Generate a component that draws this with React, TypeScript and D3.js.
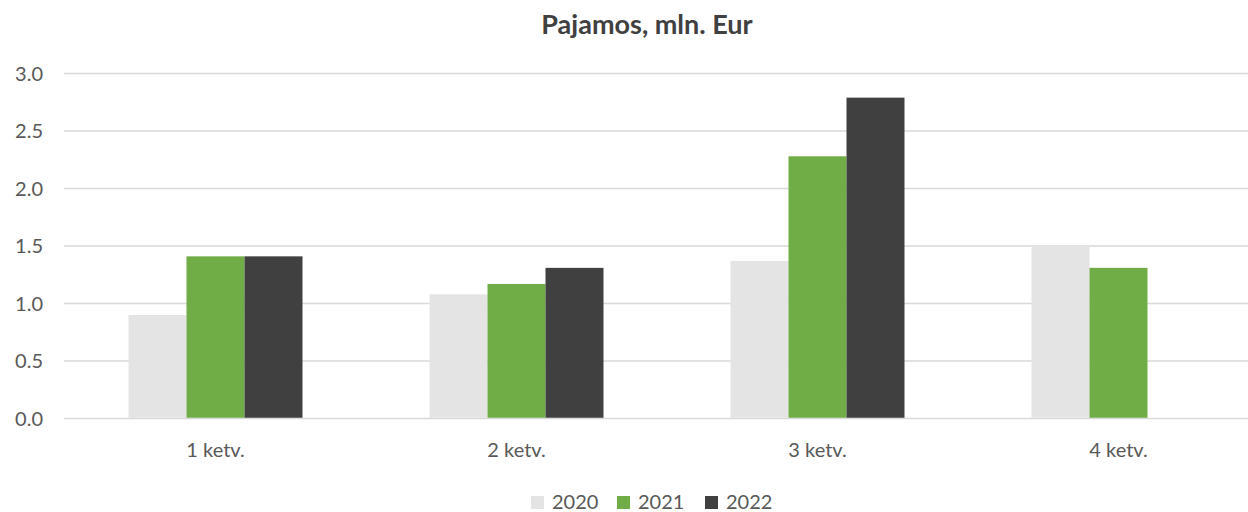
import React, { useEffect, useRef } from "react";
import * as d3 from "d3";

const categories = ["1 ketv.", "2 ketv.", "3 ketv.", "4 ketv."];
const seriesNames = ["2020", "2021", "2022"];
const values2020 = [0.9, 1.08, 1.37, 1.5];
const values2021 = [1.41, 1.17, 2.28, 1.31];
const values2022 = [1.41, 1.31, 2.79, null];
const seriesColors = ["#e4e4e4", "#70ad47", "#404040"];
const yTicks = [0, 0.5, 1, 1.5, 2, 2.5, 3];

export default function App() {
  const ref = useRef<SVGSVGElement | null>(null);

  useEffect(() => {
    const width = 1248, height = 512;
    const svg = d3.select(ref.current).attr("width", width).attr("height", height);
    svg.selectAll("*").remove();
    const font = "Lato, 'Open Sans', sans-serif";

    const series = [values2020, values2021, values2022];
    const rows = categories.flatMap((c, i) =>
      seriesNames.map((s, j) => ({ cat: c, name: s, value: series[j][i], color: seriesColors[j] }))
    ).filter(d => d.value != null);

    const x0 = d3.scaleBand().domain(categories).range([65, 1269]).padding(0);
    const x1 = d3.scaleBand().domain(seriesNames).range([0, x0.bandwidth()]).paddingInner(0).paddingOuter(1.095);
    const y = d3.scaleLinear().domain([0, 3]).range([418.5, 73.5]);

    // gridlines
    svg.append("g").selectAll("line").data(yTicks).join("line")
      .attr("x1", 64).attr("x2", width)
      .attr("y1", d => y(d)).attr("y2", d => y(d))
      .attr("stroke", "#d9d9d9").attr("stroke-width", 1.5);

    // y labels
    svg.append("g").selectAll("text").data(yTicks).join("text")
      .attr("x", 43).attr("y", d => y(d)).attr("dy", "0.36em")
      .attr("text-anchor", "end").attr("font-family", font).attr("font-size", 20)
      .attr("fill", "#595959").text(d => d.toFixed(1));

    // bars
    svg.append("g").selectAll("rect").data(rows).join("rect")
      .attr("x", d => (x0(d.cat) as number) + (x1(d.name) as number))
      .attr("y", d => y(d.value as number))
      .attr("width", x1.bandwidth())
      .attr("height", d => y(0) - y(d.value as number) - 0.75)
      .attr("fill", d => d.color);

    // x labels
    svg.append("g").selectAll("text").data(categories).join("text")
      .attr("x", d => (x0(d) as number) + x0.bandwidth() / 2).attr("y", 457)
      .attr("text-anchor", "middle").attr("font-family", font).attr("font-size", 20)
      .attr("fill", "#595959").text(d => d);

    // title
    svg.append("text").attr("x", 647).attr("y", 34)
      .attr("text-anchor", "middle").attr("font-family", font).attr("font-size", 27)
      .attr("font-weight", "bold").attr("fill", "#404040").text("Pajamos, mln. Eur");

    // legend
    const legendX = [531, 617, 705];
    const lg = svg.append("g").selectAll("g").data(seriesNames).join("g")
      .attr("transform", (d, i) => `translate(${legendX[i]},0)`);
    lg.append("rect").attr("x", 0).attr("y", 496).attr("width", 13).attr("height", 13)
      .attr("fill", (d, i) => seriesColors[i]);
    lg.append("text").attr("x", 21).attr("y", 509).attr("font-family", font).attr("font-size", 20)
      .attr("fill", "#595959").text(d => d);
  }, []);

  return <svg ref={ref} style={{ position: "absolute", left: 0, top: 0, display: "block" }}></svg>;
}
